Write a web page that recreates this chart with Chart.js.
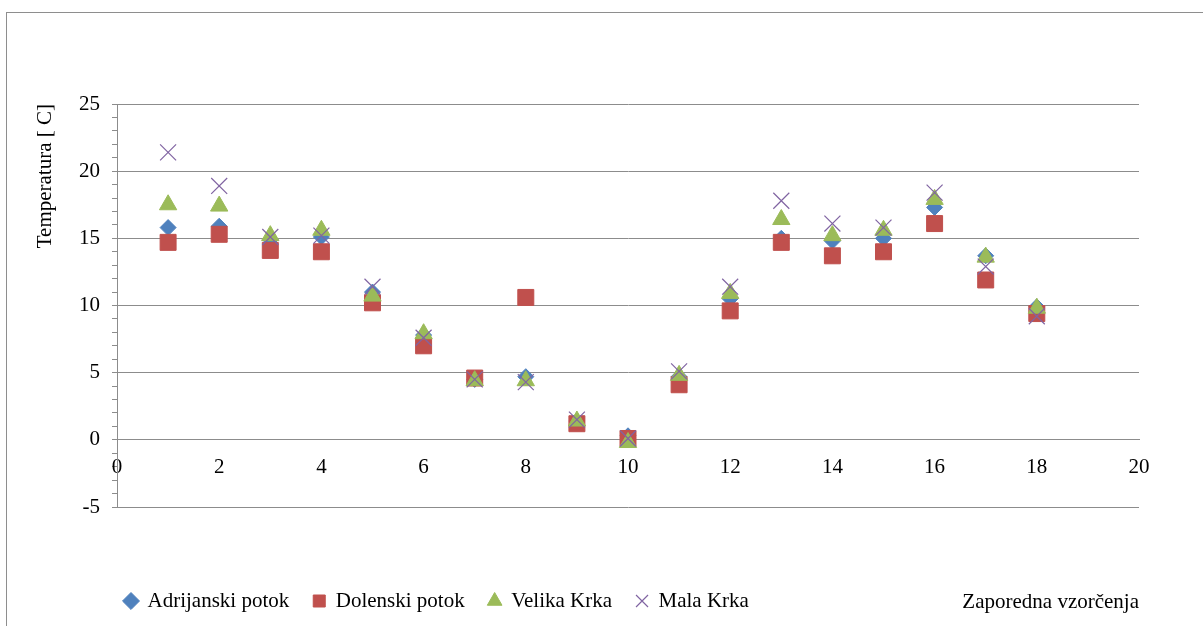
<!DOCTYPE html>
<html>
<head>
<meta charset="utf-8">
<script src="https://cdn.jsdelivr.net/npm/chart.js@4/dist/chart.umd.min.js"></script>
<style>
  html, body { margin: 0; padding: 0; background: #fff; }
  #wrap { position: relative; width: 1203px; height: 626px; overflow: hidden; }
  #frame { position: absolute; left: 6px; top: 12px; width: 1250px; height: 700px; border: 1px solid #8e8e8e; box-sizing: border-box; }
  canvas { position: absolute; left: 0; top: 0; }
</style>
</head>
<body>
<div id="wrap">
  <div id="frame"></div>
  <canvas id="c" width="1203" height="626"></canvas>
</div>
<script>
const samples = [1, 2, 3, 4, 5, 6, 7, 8, 9, 10, 11, 12, 13, 14, 15, 16, 17, 18];
const seriesNames = ['Adrijanski potok', 'Dolenski potok', 'Velika Krka', 'Mala Krka'];
const adrijanski = [15.8, 15.9, 14.9, 15.1, 11.0, 7.8, 4.5, 4.7, 1.4, 0.3, 4.7, 10.5, 15.0, 14.8, 15.0, 17.3, 13.7, 9.9];
const dolenski   = [14.7, 15.3, 14.1, 14.0, 10.2, 7.0, 4.6, 10.6, 1.2, 0.1, 4.1, 9.6, 14.7, 13.7, 14.0, 16.1, 11.9, 9.4];
const velika     = [17.5, 17.4, 15.2, 15.6, 10.7, 7.9, 4.4, 4.4, 1.4, -0.2, 4.8, 10.9, 16.4, 15.2, 15.6, 17.9, 13.6, 9.8];
const mala       = [21.4, 18.9, 15.1, 15.2, 11.4, 7.6, 4.5, 4.3, 1.5, 0.1, 5.1, 11.4, 17.8, 16.1, 15.8, 18.4, 12.9, 9.2];
const yTicksMajor = [-5, 0, 5, 10, 15, 20, 25];
const xTicks = [0, 2, 4, 6, 8, 10, 12, 14, 16, 18, 20];
const xTitle = 'Zaporedna vzorčenja';
const yTitle = 'Temperatura [ C]';

const FONT = "'Liberation Serif', 'Times New Roman', serif";
const GRID = '#8c8c8c';

const toPoints = arr => samples.map((s, i) => ({ x: s, y: arr[i] }));

const chart = new Chart(document.getElementById('c'), {
  type: 'scatter',
  data: {
    datasets: [
      { label: seriesNames[0], data: toPoints(adrijanski), pointStyle: 'rectRot', pointRadius: 8, pointHoverRadius: 8,
        backgroundColor: '#4F81BD', borderColor: '#4F81BD', borderWidth: 1, order: 4 },
      { label: seriesNames[1], data: toPoints(dolenski), pointStyle: 'rect', pointRadius: 11.3, pointHoverRadius: 11.3,
        backgroundColor: '#C0504D', borderColor: '#C0504D', borderWidth: 1, order: 3 },
      { label: seriesNames[2], data: toPoints(velika), pointStyle: 'triangle', pointRadius: 10, pointHoverRadius: 10,
        backgroundColor: '#9BBB59', borderColor: '#9BBB59', borderWidth: 1, order: 2 },
      { label: seriesNames[3], data: toPoints(mala), pointStyle: 'crossRot', pointRadius: 11.3, pointHoverRadius: 11.3,
        backgroundColor: '#8064A2', borderColor: '#8064A2', borderWidth: 1.2, order: 1 }
    ]
  },
  options: {
    responsive: false,
    animation: false,
    devicePixelRatio: 1,
    layout: { padding: { left: 101, top: 104, right: 64, bottom: 4.5 } },
    scales: {
      x: {
        type: 'linear',
        min: 0, max: 20,
        position: { y: 0 },
        afterBuildTicks: s => { s.ticks = xTicks.map(v => ({ value: v })); },
        ticks: { color: '#000', font: { family: FONT, size: 21 }, padding: 15, maxRotation: 0 },
        grid: { display: true, drawOnChartArea: false, drawTicks: false },
        border: { display: true, color: GRID },
        title: { display: true, text: xTitle, align: 'end', color: '#000',
                 font: { family: FONT, size: 21 }, padding: { top: 94.7, bottom: 0 } }
      },
      y: {
        type: 'linear',
        min: -5, max: 25,
        ticks: { stepSize: 1, autoSkip: false, color: '#000', font: { family: FONT, size: 21 },
                 mirror: true, crossAlign: 'far', padding: -38,
                 callback: v => (yTicksMajor.includes(v) ? String(v) : '') },
        grid: { color: c => (c.tick && yTicksMajor.includes(c.tick.value) ? GRID : 'rgba(0,0,0,0)'),
                tickColor: GRID, tickLength: 5, lineWidth: 1 },
        border: { display: true, color: GRID },
        title: { display: true, text: yTitle, align: 'end', color: '#000',
                 font: { family: FONT, size: 21 }, padding: { top: -68.6, bottom: 0 } },
        afterFit: s => { s.width = 16; }
      }
    },
    plugins: {
      tooltip: { enabled: false },
      legend: {
        position: 'bottom',
        align: 'start',
        title: { display: true, text: ' ', font: { size: 10, lineHeight: 1 }, padding: { top: 49.5, bottom: 0 } },
        labels: {
          usePointStyle: true, boxWidth: 12, boxHeight: 12, padding: 24, color: '#000',
          font: { family: FONT, size: 21 },
          sort: (a, b) => a.datasetIndex - b.datasetIndex
        }
      }
    }
  }
});
</script>
</body>
</html>
